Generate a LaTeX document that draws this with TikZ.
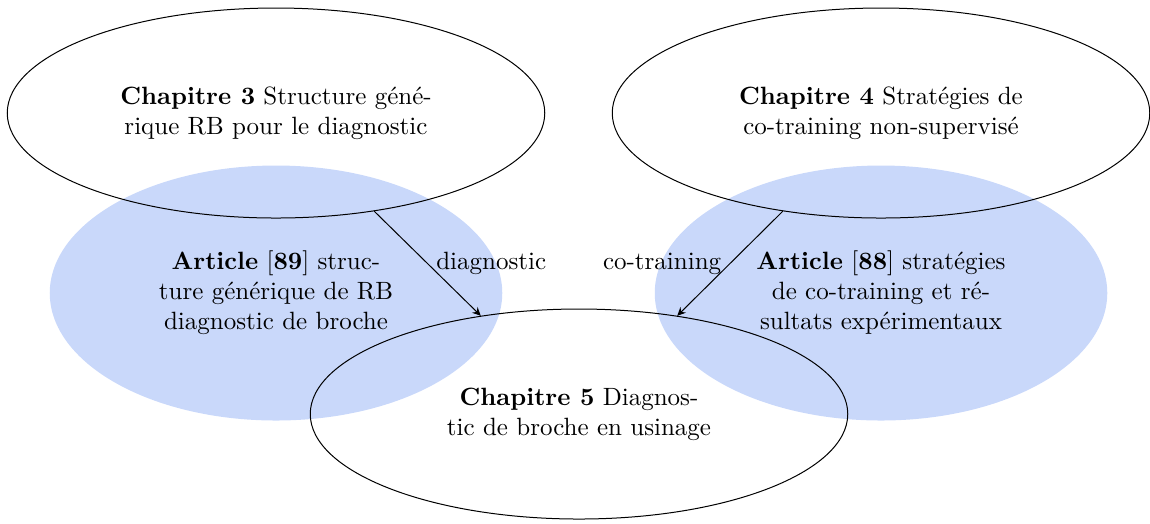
\documentclass[tikz,border=0pt]{standalone}
\usetikzlibrary{shapes.geometric,arrows.meta}
\definecolor{artblue}{RGB}{201,216,250}
\begin{document}
\begin{tikzpicture}[x=0.4pt,y=-0.4pt,
  chap/.style={ellipse,draw,line width=0.4pt,inner sep=0pt,minimum width=215pt,minimum height=84pt,align=center},
  art/.style={ellipse,fill=artblue,inner sep=0pt,minimum width=181pt,minimum height=102pt,align=center},
  lbl/.style={inner sep=3.33pt},
  link/.style={-{Stealth[length=3.4pt,width=3.2pt,inset=1.2pt]}}]
\useasboundingbox (0,0) rectangle (1150,523);
\node[art] (a89) at (276,293) {\textbf{Article} [\textbf{89}] struc-\\ture générique de RB\\diagnostic de broche};
\node[art] (a88) at (881,293) {\textbf{Article} [\textbf{88}] stratégies\\de co-training et ré-\\sultats expérimentaux};
\node[chap] (c3) at (276,113) {\textbf{Chapitre 3} Structure géné-\\rique RB pour le diagnostic};
\node[chap] (c4) at (881,113) {\textbf{Chapitre 4} Stratégies de\\co-training non-supervisé};
\node[chap] (c5) at (579,414) {\textbf{Chapitre 5} Diagnos-\\tic de broche en usinage};
\draw[link] (c3.-45) -- node[lbl,midway,right] {diagnostic} (c5.135);
\draw[link] (c4.-135) -- node[lbl,midway,left] {co-training} (c5.45);
\end{tikzpicture}
\end{document}
